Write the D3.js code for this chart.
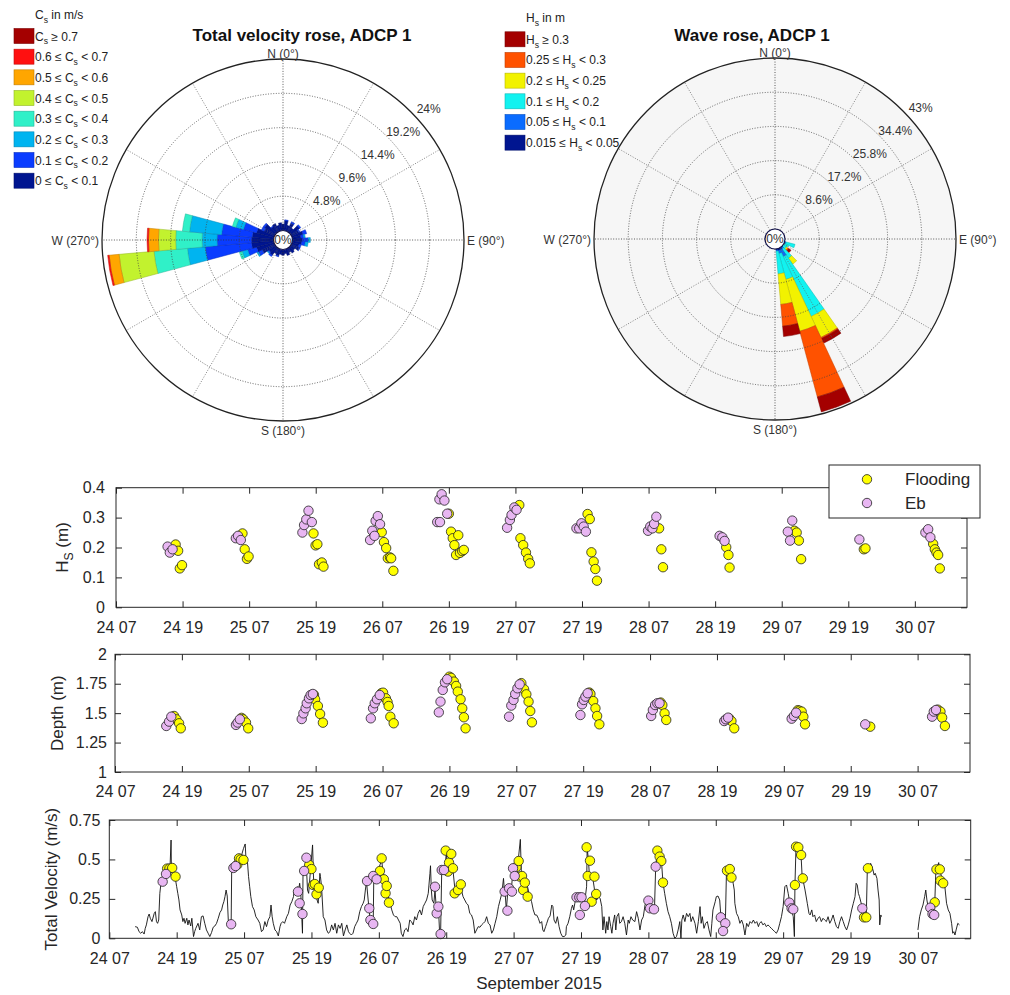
<!DOCTYPE html>
<html>
<head>
<meta charset="utf-8">
<script src="https://cdn.jsdelivr.net/npm/d3@7"></script>
<style>
  body { margin: 0; background: #fff; }
  svg text { font-family: "Liberation Sans", Arial, sans-serif; }
</style>
</head>
<body>
<svg id="chart" width="1010" height="995"></svg>
<script>
// ---------- rose data (percent of records, 10 degree bins) ----------
const roseDirs = d3.range(0, 360, 10);

// total velocity classes, m/s
const speedEdges = [0, 0.1, 0.2, 0.3, 0.4, 0.5, 0.6, 0.7];
const speedColors = ["#001590", "#0a3cff", "#00b4f0", "#30f0c8", "#c2f22e", "#ffa600", "#ff1010", "#a40000"];
const speed0 = [0.9,1.4,0.8,1.3,0.7,1.5,1.1,1.6,1.2,1.4, 1.3,1.0,1.2,0.7,0.9,0.6,0.9,0.6,0.8,0.7, 1.0,0.8,1.3,1.1,1.9,2.5,3.1,3.1,3.0,2.5, 1.6,1.8,1.0,1.2,0.8,1.1];
const speed1 = [0,0.1,0,0.2,0,0.2,0.2,0.5,0.4,0.8, 0.5,0.3,0.1,0,0,0,0,0,0,0, 0.1,0,0.2,0.2,0.6,1.3,6.5,4.8,4.3,1.9, 0.4,0.2,0.1,0,0,0];
const speed2 = [0,0,0,0,0,0,0,0,0.2,0.3, 0.4,0,0,0,0,0,0,0,0,0, 0,0,0,0.1,0.2,0.8,2.5,2.1,4.5,1.1, 0,0,0,0,0,0];
const speed3 = [0,0,0,0,0,0,0,0,0,0, 0,0,0,0,0,0,0,0,0,0, 0,0,0,0,0,0.4,4.7,3.7,1.0,0.5, 0,0,0,0,0,0];
const speed4 = [0,0,0,0,0,0,0,0,0,0, 0,0,0,0,0,0,0,0,0,0, 0,0,0,0,0,0,4.9,2.4,0,0, 0,0,0,0,0,0];
const speed5 = [0,0,0,0,0,0,0,0,0,0, 0,0,0,0,0,0,0,0,0,0, 0,0,0,0,0,0,1.4,1.4,0,0, 0,0,0,0,0,0];
const speed6 = [0,0,0,0,0,0,0,0,0,0, 0,0,0,0,0,0,0,0,0,0, 0,0,0,0,0,0,0.2,0.2,0,0, 0,0,0,0,0,0];
const speed7 = [0,0,0,0,0,0,0,0,0,0, 0,0,0,0,0,0,0,0,0,0, 0,0,0,0,0,0,0,0,0,0, 0,0,0,0,0,0];
const speedRings = [4.8, 9.6, 14.4, 19.2, 24];

// wave height classes, m
const waveEdges = [0.015, 0.05, 0.1, 0.2, 0.25, 0.3];
const waveColors = ["#001590", "#0a6cff", "#12f2f0", "#f2f200", "#ff5200", "#a40000"];
const wave0 = [0,0,0,0,0,0,0,0,0,0, 0,0.2,0.2,0,0.2,0.5,0.5,0.3,0,0, 0,0,0,0,0,0,0,0,0,0, 0,0,0,0,0,0];
const wave1 = [0,0,0,0,0,0,0,0,0,0, 0,0.2,0,0,0.4,1.9,0.8,0.3,0,0, 0,0,0,0,0,0,0,0,0,0, 0,0,0,0,0,0];
const wave2 = [0,0,0,0,0,0,0,0,0,0, 0,2.3,1.0,1.0,2.8,16.6,6.7,5.7,0,0, 0,0,0,0,0,0,0,0,0,0, 0,0,0,0,0,0];
const wave3 = [0,0,0,0,0,0,0,0,0,0, 0,0,0,0.4,1.8,5.8,13.5,7.7,0,0, 0,0,0,0,0,0,0,0,0,0, 0,0,0,0,0,0];
const wave4 = [0,0,0,0,0,0,0,0,0,0, 0,0,0,0.3,0,0.3,17.1,5.5,0,0, 0,0,0,0,0,0,0,0,0,0, 0,0,0,0,0,0];
const wave5 = [0,0,0,0,0,0,0,0,0,0, 0,0,0,0.7,0,1.3,3.9,2.6,0,0, 0,0,0,0,0,0,0,0,0,0, 0,0,0,0,0,0];
const waveRings = [8.6, 17.2, 25.8, 34.4, 43];

// ---------- time series data: [hours after 24 Sep 07:00, value] ----------
const tickHours = [0, 12, 24, 36, 48, 60, 72, 84, 96, 108, 120, 132, 144];
const hsTicks = [0, 0.1, 0.2, 0.3, 0.4];
const depthTicks = [1, 1.25, 1.5, 1.75, 2];
const velTicks = [0, 0.25, 0.5, 0.75];

const hsEbb = [
  [9.3,.203],[9.7,.183],[10.2,.194],
  [21.6,.231],[22.0,.239],[22.5,.225],
  [33.6,.25],[33.9,.275],[34.3,.294],[34.7,.323],[35.3,.285],
  [45.8,.225],[46.2,.256],[46.6,.239],[46.8,.289],[47.2,.305],[47.6,.278],
  [57.9,.285],[58.4,.285],[58.3,.361],[58.7,.378],[59.2,.357],[59.7,.313],
  [70.5,.266],[71.0,.292],[71.3,.309],[71.8,.334],[72.2,.326],
  [83.0,.264],[83.5,.264],[83.9,.281],[84.3,.27],[84.7,.253],
  [95.9,.256],[96.3,.27],[96.7,.264],[97.0,.279],[97.4,.303],
  [108.8,.239],[109.3,.234],[109.7,.222],
  [121.1,.253],[121.5,.223],[121.9,.29],
  [134.0,.227],
  [145.9,.25],[146.4,.261],[146.8,.234]
];
const hsFlood = [
  [10.75,.21],[11.2,.189],[11.5,.13],[11.9,.141],
  [22.8,.247],[23.2,.194],[23.6,.162],[23.9,.17],
  [35.6,.247],[35.97,.207],[36.3,.211],[36.6,.144],[37.1,.15],[37.4,.136],
  [47.9,.251],[48.3,.218],[48.7,.198],[49.0,.164],[49.4,.167],[49.6,.164],[50.0,.122],
  [60.0,.313],[60.4,.253],[60.7,.231],[61.0,.208],[61.3,.175],[61.7,.241],[62.0,.182],[62.4,.188],[62.7,.192],
  [72.7,.342],[72.9,.231],[73.4,.208],[73.9,.183],[74.3,.162],[74.6,.147],
  [85.0,.312],[85.4,.295],[85.7,.184],[86.1,.153],[86.4,.128],[86.7,.089],
  [97.9,.264],[98.3,.194],[98.6,.134],
  [110.0,.201],[110.4,.175],[110.6,.133],
  [122.3,.256],[122.7,.25],[123.1,.223],[123.5,.161],
  [134.8,.194],[135.1,.197],
  [147.3,.212],[147.6,.194],[147.9,.183],[148.2,.175],[148.5,.13]
];

const depthEbb = [
  [9.2,1.391],[9.7,1.428],[10.1,1.47],
  [21.7,1.40],[22.0,1.42],[22.4,1.448],
  [33.5,1.45],[33.8,1.498],[34.2,1.541],[34.4,1.584],[34.8,1.626],[35.1,1.654],[35.5,1.663],
  [45.9,1.456],[46.3,1.541],[46.6,1.584],[47.0,1.618],[47.5,1.654],
  [58.1,1.507],[58.4,1.598],[58.8,1.697],[59.2,1.762],[59.6,1.788],
  [70.7,1.47],[71.1,1.564],[71.5,1.612],[71.8,1.663],[72.2,1.711],[72.6,1.745],
  [83.5,1.484],[83.8,1.575],[84.1,1.612],[84.4,1.64],[84.8,1.669],
  [96.2,1.476],[96.5,1.527],[96.9,1.569],[97.3,1.584],[97.7,1.584],
  [109.3,1.433],[109.6,1.448],[110.0,1.462],
  [121.4,1.453],[121.8,1.476],[122.2,1.504],
  [134.6,1.405],
  [146.6,1.47],[146.9,1.513],[147.3,1.527]
];
const depthFlood = [
  [10.6,1.476],[11.0,1.448],[11.5,1.414],[11.8,1.371],
  [22.7,1.46],[23.0,1.448],[23.5,1.42],[23.9,1.371],
  [35.7,1.655],[35.9,1.618],[36.4,1.561],[36.8,1.493],[37.3,1.419],
  [47.8,1.67],[48.1,1.674],[48.6,1.626],[48.9,1.595],[49.1,1.561],[49.4,1.47],[50.0,1.414],
  [60.0,1.81],[60.3,1.80],[60.8,1.768],[61.2,1.731],[61.5,1.683],[62.0,1.618],[62.3,1.541],[62.6,1.465],[62.9,1.371],
  [72.9,1.755],[73.4,1.703],[73.8,1.66],[74.2,1.598],[74.5,1.518],[74.8,1.422],
  [85.1,1.675],[85.3,1.663],[85.8,1.603],[86.2,1.541],[86.5,1.476],[86.9,1.405],
  [97.9,1.59],[98.2,1.569],[98.6,1.498],[98.9,1.442],
  [110.2,1.455],[110.6,1.433],[111.1,1.371],
  [122.5,1.525],[122.8,1.521],[123.2,1.513],[123.5,1.47],[123.8,1.405],
  [135.5,1.385],
  [147.6,1.53],[148.1,1.513],[148.4,1.462],[148.9,1.391]
];

const velEbb = [
  [9.5,.359],[10.1,.408],
  [21.7,.089],[22.1,.446],[22.5,.458],
  [33.6,.296],[33.9,.222],[34.4,.154],[34.7,.427],[35.1,.511],
  [45.9,.363],[46.3,.19],[46.5,.116],[47.0,.091],[47.0,.395],[47.6,.374],
  [58.0,.327],[58.3,.158],[58.6,.201],[59.0,.027],[59.2,.433],[59.6,.433],
  [70.4,.296],[70.9,.175],[71.2,.317],[71.7,.296],[71.9,.444],[72.2,.395],
  [83.2,.26],[83.7,.26],[84.1,.26],[83.8,.148],[84.7,.205],
  [96.0,.239],[96.3,.19],[97.0,.184],[97.3,.454],
  [108.9,.133],[109.7,.095],[109.3,.046],
  [121.1,.226],[121.5,.19],[121.8,.184],
  [134.1,.19],
  [146.2,.194],[146.6,.154],[146.9,.148]
];
const velFlood = [
  [10.3,.442],[10.7,.442],[11.2,.446],[11.8,.391],
  [22.8,.467],[23.1,.507],[23.4,.50],[23.9,.497],
  [35.6,.465],[36.0,.439],[36.3,.338],[36.6,.344],[36.9,.279],[37.3,.321],
  [48.2,.427],[48.5,.507],[48.9,.374],[49.2,.285],[49.4,.332],[49.8,.226],
  [59.9,.556],[60.3,.423],[60.5,.48],[60.9,.535],[61.2,.444],[61.5,.285],[62.1,.306],[62.6,.342],
  [72.5,.452],[72.9,.49],[73.1,.391],[73.5,.395],[73.7,.306],[74.0,.353],[74.5,.264],
  [85.0,.577],[85.2,.395],[85.6,.492],[85.9,.232],[86.4,.391],[86.7,.281],
  [97.6,.556],[98.0,.518],[98.3,.49],[98.6,.353],
  [110.0,.429],[110.5,.439],[110.8,.385],
  [122.1,.338],[122.3,.581],[122.7,.577],[123.2,.528],[123.5,.38],
  [134.4,.133],[134.8,.133],[135.1,.444],
  [147.0,.228],[147.3,.437],[147.9,.437],[148.0,.366],[148.5,.349]
];

// total velocity record (null = gap in the record)
const velLine = [
  [4.6,.074],[5.0,.070],[5.3,.042],[5.6,.032],[5.9,.042],[6.2,.027],[6.4,.063],[6.6,.085],[6.9,.137],[7.1,.154],
  [7.3,.127],[7.6,.106],[8.0,.158],[8.2,.169],[8.4,.106],[8.6,.095],[8.8,.116],[9.0,.285],[9.2,.349],[9.4,.37],
  [9.6,.38],[9.9,.412],[10.2,.427],[10.5,.433],[10.8,.438],[11.0,.623],[11.05,.454],[11.3,.433],[11.5,.412],[11.8,.37],
  [12.0,.327],[12.2,.285],[12.4,.243],[12.6,.18],[12.9,.148],[13.1,.106],[13.3,.127],[13.5,.095],[13.8,.127],[14.0,.085],
  [14.2,.116],[14.5,.078],[14.7,.127],[15.0,.011],[15.2,.042],[15.4,.063],[15.8,.095],[16.1,.053],[16.4,.137],[16.7,.142],
  [17.0,.095],[17.3,.053],[17.6,.032],[17.9,.011],[18.2,.036],[18.5,.07],[18.8,.078],[19.1,.095],[19.4,.127],[19.7,.163],
  [20.0,.18],[20.2,.211],[20.4,.232],[20.6,.264],[20.8,.306],[21.0,.268],[21.2,.106],[21.5,.095],[21.7,.089],[21.8,.454],
  [22.2,.465],[22.6,.465],[23.0,.486],[23.4,.507],[23.9,.57],[24.2,.598],[24.35,.497],[24.6,.486],[24.8,.391],[25.0,.327],
  [25.2,.264],[25.5,.201],[25.8,.18],[26.1,.137],[26.5,.116],[26.8,.095],[27.1,.042],[27.4,.053],[27.7,.106],[28.0,.074],
  [28.3,.116],[28.6,.137],[28.8,.211],[29.0,.137],[29.2,.095],[29.5,.053],[29.8,.042],[30.1,.015],[30.4,.074],[30.6,.095],
  [30.9,.106],[31.2,.095],[31.6,.137],[31.9,.158],[32.2,.211],[32.5,.232],[32.8,.264],[32.9,.296],[33.2,.317],[33.4,.285],
  [33.5,.327],[33.7,.306],[33.9,.349],[34.1,.285],[34.3,.116],[34.4,.032],[34.5,.412],[34.7,.433],[34.9,.433],[35.1,.454],
  [35.3,.306],[35.5,.285],[35.8,.42],[36.2,.592],[36.4,.349],[36.7,.306],[37.0,.243],[37.2,.222],[37.5,.412],[37.6,.391],
  [37.8,.327],[38.1,.137],[38.4,.116],[38.7,.053],[39.0,.032],[39.3,.042],[39.6,.085],[39.9,.053],[40.2,.095],[40.5,.032],
  [40.8,.085],[41.1,.063],[41.4,.095],[41.7,.015],[42.0,.053],[42.3,.085],[42.6,.042],[42.8,.032],[43.1,.021],[43.4,.032],
  [43.7,.074],[44.0,.095],[44.3,.116],[44.6,.169],[44.9,.201],[45.2,.222],[45.4,.243],[45.6,.306],[45.8,.359],[46.1,.243],
  [46.4,.137],[46.7,.116],[47.0,.095],[47.1,.391],[47.3,.412],[47.6,.412],[47.9,.433],[48.2,.465],[48.5,.497],[48.7,.433],
  [48.9,.391],[49.2,.37],[49.4,.306],[49.7,.264],[50.0,.222],[50.3,.18],[50.6,.148],[50.9,.137],[51.2,.137],[51.5,.116],
  [51.8,.095],[52.0,.032],[52.3,.011],[52.6,.053],[52.9,.063],[53.2,.042],[53.5,.116],[53.8,.106],[54.1,.085],[54.4,.137],
  [54.7,.116],[55.0,.158],[55.3,.18],[55.6,.148],[55.9,.201],[56.2,.222],[56.5,.243],[56.8,.285],[57.1,.412],[57.2,.46],
  [57.35,.306],[57.5,.243],[57.8,.222],[58.0,.306],[58.3,.158],[58.6,.201],[58.8,.053],[59.0,.027],[59.2,.433],[59.5,.433],
  [59.8,.444],[60.0,.539],[60.3,.444],[60.8,.475],[61.0,.444],[61.2,.433],[61.5,.327],[61.8,.306],[62.1,.338],[62.4,.37],
  [62.7,.306],[63.0,.264],[63.3,.243],[63.6,.222],[63.9,.211],[64.2,.158],[64.5,.148],[64.8,.116],[65.1,.032],[65.4,.053],
  [65.7,.074],[66.0,.07],[66.3,.085],[66.6,.095],[66.9,.106],[67.2,.137],[67.5,.095],[67.8,.085],[68.1,.032],[68.4,.053],
  [68.7,.095],[69.0,.137],[69.3,.201],[69.6,.243],[69.9,.285],[70.2,.38],[70.35,.306],[70.5,.285],[70.7,.18],[71.0,.306],
  [71.3,.296],[71.6,.306],[71.9,.444],[72.2,.401],[72.5,.444],[72.8,.486],[73.2,.627],[73.4,.391],[73.7,.38],[74.0,.38],
  [74.3,.359],[74.6,.306],[74.9,.264],[75.2,.232],[75.5,.18],[75.8,.148],[76.1,.148],[76.4,.127],[76.7,.095],[77.0,.106],
  [77.2,.053],[77.4,.042],[77.7,.074],[77.9,.095],[78.2,.127],[78.5,.142],[78.8,.211],[79.0,.201],[79.2,.116],[79.5,.095],
  [79.8,.137],[80.1,.074],[80.4,.032],[80.7,.011],[81.0,.011],[81.3,.021],[81.4,.074],[81.7,.095],[82.0,.137],[82.3,.19],
  [82.5,.211],[82.7,.18],[82.9,.222],[83.1,.254],[83.3,.26],[83.6,.264],[83.8,.254],[84.1,.243],[84.4,.211],[84.7,.243],
  [85.0,.327],[85.1,.57],[85.3,.507],[85.5,.401],[85.8,.401],[86.0,.391],[86.2,.359],[86.5,.285],[86.8,.243],[87.1,.264],
  [87.4,.254],[87.7,.201],[87.9,.053],[88.1,.137],[88.4,.032],[88.6,.106],[88.8,.053],[89.0,.137],[89.3,.074],[89.5,.032],
  [89.7,.095],[90.0,.148],[90.2,.053],[90.4,.137],[90.7,.158],[90.9,.095],[91.2,.106],[91.5,.137],[91.8,.095],[92.1,.021],
  [92.4,.116],[92.6,.095],[92.9,.137],[93.2,.116],[93.6,.106],[93.9,.169],[94.2,.127],[94.5,.053],[94.8,.116],[95.1,.137],
  [95.4,.211],[95.7,.243],[96.0,.243],[96.3,.222],[96.6,.19],[96.9,.19],[97.1,.201],[97.3,.454],[97.6,.56],[97.9,.528],
  [98.2,.507],[98.4,.454],[98.6,.353],[98.9,.285],[99.2,.222],[99.5,.169],[99.8,.137],[100.1,.095],[100.4,.032],[100.7,0],
  [101.0,.011],[101.3,.053],[101.6,.106],[101.8,0],[101.96,.116],[102.2,.148],[102.5,.106],[102.8,.158],[103.1,.137],[103.4,.158],
  [103.6,.106],[103.9,.137],[104.3,.095],[104.6,.032],[104.9,.106],[105.2,.201],[105.4,.095],[105.6,.137],[105.9,.063],[106.2,.095],
  [106.5,.106],[106.8,.053],[107.1,.011],[107.3,.095],[107.5,.18],[107.9,.232],[108.1,.264],[108.4,.268],[108.7,.243],[109.0,.095],
  [109.3,.074],[109.7,.085],[109.9,.412],[110.1,.444],[110.5,.433],[110.8,.423],[111.1,.349],[111.3,.306],[111.4,.222],[111.7,.158],
  [112.0,.137],[112.3,.095],[112.6,.116],[112.9,.085],[113.2,.021],[113.5,.095],[113.8,.074],[114.1,.106],[114.4,.095],[114.7,.116],
  [115.0,.095],[115.3,.106],[115.6,.074],[115.8,.095],[116.1,.106],[116.4,.085],[116.7,.095],[117.0,.074],[117.3,.085],[117.6,.074],
  [117.9,.063],[118.2,.053],[118.5,.042],[118.8,.032],[119.1,.053],[119.4,.095],[119.7,.137],[120.0,.201],[120.3,.327],[120.6,.338],
  [120.9,.285],[121.2,.222],[121.5,.18],[121.8,.137],[122.0,.011],[122.1,.338],[122.3,.592],[122.5,.58],[122.8,.57],[123.0,.56],
  [123.2,.518],[123.4,.38],[123.6,.359],[123.9,.306],[124.3,.222],[124.6,.158],[124.8,.148],[125.1,.18],[125.3,.137],[125.6,.148],
  [125.9,.106],[126.2,.127],[126.5,.137],[126.8,.106],[127.1,.127],[127.4,.116],[127.7,.106],[128.0,.137],[128.3,.095],[128.6,.116],
  [128.9,.148],[129.2,.106],[129.5,.074],[129.8,.063],[130.1,.106],[130.4,.137],[130.7,.106],[131.0,.074],[131.3,.053],[131.6,.085],
  [131.9,.127],[132.2,.18],[132.5,.222],[132.8,.264],[133.0,.349],[133.2,.338],[133.4,.285],[133.6,.264],[133.9,.222],[134.2,.201],
  [134.4,.18],[134.8,.133],[135.0,.454],[135.3,.465],[135.6,.475],[135.8,.454],[136.0,.433],[136.2,.401],[136.4,.412],[136.7,.38],
  [136.9,.306],[137.1,.243],[137.2,.085],[137.4,.148],[137.5,.137],
  [140.0,null],
  [144.0,.053],[144.3,.137],[144.6,.18],[144.9,.211],[145.2,.264],[145.4,.306],[145.6,.243],[145.8,.201],[146.1,.194],[146.4,.211],
  [146.7,.158],[147.0,.222],[147.2,.433],[147.4,.444],[147.7,.48],[147.9,.433],[148.2,.391],[148.5,.349],[148.8,.327],[149.1,.222],
  [149.4,.18],[149.7,.158],[150.0,.095],[150.2,.032],[150.4,.042],[150.6,.021],[150.8,.053],[151.1,.095],[151.4,.085]
];

// ---------- drawing ----------
const svg = d3.select("#chart");
const FONT = '"Liberation Sans", Arial, sans-serif';
const TXT = "#262626";
const EBB = "#e8b6f2", FLOOD = "#ffff00";

// label with a subscript: pre + base + sub + post
function subText(sel, pre, base, sub, post, size) {
  sel.append("tspan").text(pre + base);
  sel.append("tspan").attr("dy", size * 0.32).attr("font-size", size * 0.72).text(sub);
  sel.append("tspan").attr("dy", -size * 0.32).text(post);
}

function drawRose(cfg) {
  const g = svg.append("g").attr("transform", `translate(${cfg.cx},${cfg.cy})`);
  const r = d3.scaleLinear().domain([0, cfg.max]).range([cfg.hole, cfg.R]);
  const rad = Math.PI / 180;
  const arc = d3.arc();

  g.append("circle").attr("r", cfg.R).attr("fill", cfg.bg);

  roseDirs.forEach((dir, i) => {
    let cum = 0;
    cfg.classes.forEach((vals, k) => {
      const v = vals[i];
      if (!v) return;
      g.append("path")
        .attr("d", arc({innerRadius: r(cum), outerRadius: r(cum + v),
                        startAngle: (dir - 5) * rad, endAngle: (dir + 5) * rad}))
        .attr("fill", cfg.colors[k])
        .attr("stroke", d3.color(cfg.colors[k]).darker(0.8))
        .attr("stroke-width", 0.5);
      cum += v;
    });
  });

  // rings and spokes
  cfg.rings.slice(0, -1).forEach(t => {
    g.append("circle").attr("r", r(t)).attr("fill", "none")
      .attr("stroke", "#444").attr("stroke-width", 0.8).attr("stroke-dasharray", "1,1.6");
  });
  d3.range(0, 360, 30).forEach(deg => {
    const a = deg * rad;
    g.append("line")
      .attr("x1", cfg.hole * Math.sin(a)).attr("y1", -cfg.hole * Math.cos(a))
      .attr("x2", cfg.R * Math.sin(a)).attr("y2", -cfg.R * Math.cos(a))
      .attr("stroke", deg % 90 === 0 ? "#333" : "#666")
      .attr("stroke-width", 0.8).attr("stroke-dasharray", "1,1.6");
  });
  g.append("circle").attr("r", cfg.R).attr("fill", "none").attr("stroke", "#222").attr("stroke-width", 1.3);

  // ring labels
  const la = 48 * rad;
  cfg.rings.forEach(t => {
    const d = r(t) + 15;
    g.append("text").attr("x", d * Math.sin(la)).attr("y", -d * Math.cos(la)).attr("dy", "0.35em")
      .attr("text-anchor", "middle").attr("font-size", 12).attr("fill", "#333").text(t + "%");
  });

  // centre hole
  g.append("circle").attr("r", cfg.hole).attr("fill", "#fff").attr("stroke", "#14144a").attr("stroke-width", 1.2);
  g.append("text").attr("text-anchor", "middle").attr("dy", "0.36em").attr("font-size", 12).attr("fill", "#333").text("0%");

  // compass labels
  const lab = (x, y, anchor, s) => g.append("text").attr("x", x).attr("y", y).attr("text-anchor", anchor)
    .attr("font-size", 12).attr("fill", "#333").text(s);
  lab(0, -cfg.R - 1.5, "middle", "N (0°)");
  lab(0, cfg.R + 13.5, "middle", "S (180°)");
  lab(-cfg.R - 3, 4.5, "end", "W (270°)");
  lab(cfg.R + 3, 4.5, "start", "E (90°)");

  // title
  svg.append("text").attr("x", cfg.titleX).attr("y", 41).attr("text-anchor", "middle")
    .attr("font-size", 17).attr("font-weight", "bold").attr("fill", "#111").text(cfg.title);

  // legend
  const lg = svg.append("g").attr("font-size", 12).attr("fill", "#222");
  subText(lg.append("text").attr("x", cfg.legX + 21).attr("y", cfg.legY - 17), "", cfg.sym, "s", cfg.unit, 12);
  const n = cfg.edges.length;
  for (let row = 0; row < n; row++) {
    const k = n - 1 - row;
    const yc = cfg.legY + row * 20.67;
    lg.append("rect").attr("x", cfg.legX).attr("y", yc - 7.5).attr("width", 20).attr("height", 15)
      .attr("fill", cfg.colors[k]).attr("stroke", d3.color(cfg.colors[k]).darker(0.8)).attr("stroke-width", 0.6);
    const t = lg.append("text").attr("x", cfg.legX + 21).attr("y", yc + 4.5);
    if (k === n - 1) subText(t, "", cfg.sym, "s", " ≥ " + cfg.edges[k], 12);
    else subText(t, cfg.edges[k] + " ≤ ", cfg.sym, "s", " < " + cfg.edges[k + 1], 12);
  }
}

drawRose({
  cx: 283, cy: 240, R: 181, hole: 9.5, max: 24, bg: "#ffffff",
  classes: [speed0, speed1, speed2, speed3, speed4, speed5, speed6, speed7],
  colors: speedColors, edges: speedEdges, rings: speedRings,
  title: "Total velocity rose, ADCP 1", titleX: 302,
  legX: 14, legY: 36, sym: "C", unit: " in m/s"
});
drawRose({
  cx: 775, cy: 239, R: 181, hole: 10, max: 43, bg: "#f6f6f6",
  classes: [wave0, wave1, wave2, wave3, wave4, wave5],
  colors: waveColors, edges: waveEdges, rings: waveRings,
  title: "Wave rose, ADCP 1", titleX: 752,
  legX: 505, legY: 39.3, sym: "H", unit: " in m"
});

// ---------- time series panels ----------
const t0 = Date.UTC(2015, 8, 24, 7);
const hrs = h => new Date(t0 + h * 3600000);
const tEnd = 153.4;
const fmtTime = d3.utcFormat("%d %H");

function drawPanel(p) {
  const x = d3.scaleUtc().domain([hrs(0), hrs(tEnd)]).range([p.left, p.right]);
  const y = d3.scaleLinear().domain(p.yDomain).range([p.bottom, p.top]);
  const g = svg.append("g");

  if (p.line) {
    g.append("path").datum(p.line)
      .attr("d", d3.line().defined(d => d[1] !== null).x(d => x(hrs(d[0]))).y(d => y(d[1])))
      .attr("fill", "none").attr("stroke", "#111").attr("stroke-width", 0.9);
  }
  [[p.flood, FLOOD], [p.ebb, EBB]].forEach(([pts, col]) => {
    g.append("g").selectAll("circle").data(pts).join("circle")
      .attr("cx", d => x(hrs(d[0]))).attr("cy", d => y(d[1])).attr("r", 4.7)
      .attr("fill", col).attr("stroke", "#222").attr("stroke-width", 0.8);
  });

  const tv = tickHours.map(hrs);
  const put = (axis, tx, ty) => g.append("g").attr("transform", `translate(${tx},${ty})`).call(axis)
    .attr("font-size", 16).attr("font-family", FONT).attr("color", TXT)
    .call(s => s.select(".domain").remove());
  put(d3.axisBottom(x).tickValues(tv).tickFormat(fmtTime).tickSizeInner(-6).tickSizeOuter(0).tickPadding(14), 0, p.bottom);
  put(d3.axisTop(x).tickValues(tv).tickFormat("").tickSizeInner(-6).tickSizeOuter(0), 0, p.top);
  put(d3.axisLeft(y).tickValues(p.yTicks).tickFormat(d => String(d)).tickSizeInner(-6).tickSizeOuter(0).tickPadding(p.ypad), p.left, 0);
  put(d3.axisRight(y).tickValues(p.yTicks).tickFormat("").tickSizeInner(-6).tickSizeOuter(0), p.right, 0);

  g.append("rect").attr("x", p.left).attr("y", p.top)
    .attr("width", p.right - p.left).attr("height", p.bottom - p.top)
    .attr("fill", "none").attr("stroke", TXT).attr("stroke-width", 1);

  const yl = g.append("text").attr("transform", `translate(${p.labX},${(p.top + p.bottom) / 2}) rotate(-90)`)
    .attr("text-anchor", "middle").attr("font-size", 17).attr("fill", TXT);
  p.ylabel(yl);
}

drawPanel({
  left: 116, right: 967, top: 487.7, bottom: 607.3, yDomain: [0, 0.4], yTicks: hsTicks,
  ebb: hsEbb, flood: hsFlood, ypad: 11, labX: 68,
  ylabel: t => subText(t, "", "H", "S", " (m)", 17)
});
drawPanel({
  left: 115, right: 970, top: 654.3, bottom: 772, yDomain: [1, 2], yTicks: depthTicks,
  ebb: depthEbb, flood: depthFlood, ypad: 8, labX: 63,
  ylabel: t => t.text("Depth (m)")
});
drawPanel({
  left: 109.3, right: 970.7, top: 820, bottom: 938.3, yDomain: [0, 0.75], yTicks: velTicks,
  ebb: velEbb, flood: velFlood, line: velLine, ypad: 9, labX: 57,
  ylabel: t => t.text("Total Velocity (m/s)")
});

svg.append("text").attr("x", 539).attr("y", 989).attr("text-anchor", "middle")
  .attr("font-size", 17).attr("fill", TXT).text("September 2015");

// legend of the scatter series
const leg = svg.append("g");
leg.append("rect").attr("x", 829).attr("y", 465).attr("width", 151).attr("height", 53)
  .attr("fill", "#fff").attr("stroke", TXT).attr("stroke-width", 1);
[["Flooding", FLOOD, 479.3], ["Eb", EBB, 503]].forEach(([name, col, yy]) => {
  leg.append("circle").attr("cx", 867).attr("cy", yy).attr("r", 4.7)
    .attr("fill", col).attr("stroke", "#222").attr("stroke-width", 0.8);
  leg.append("text").attr("x", 905).attr("y", yy + 6).attr("font-size", 17).attr("fill", TXT).text(name);
});
</script>
</body>
</html>
